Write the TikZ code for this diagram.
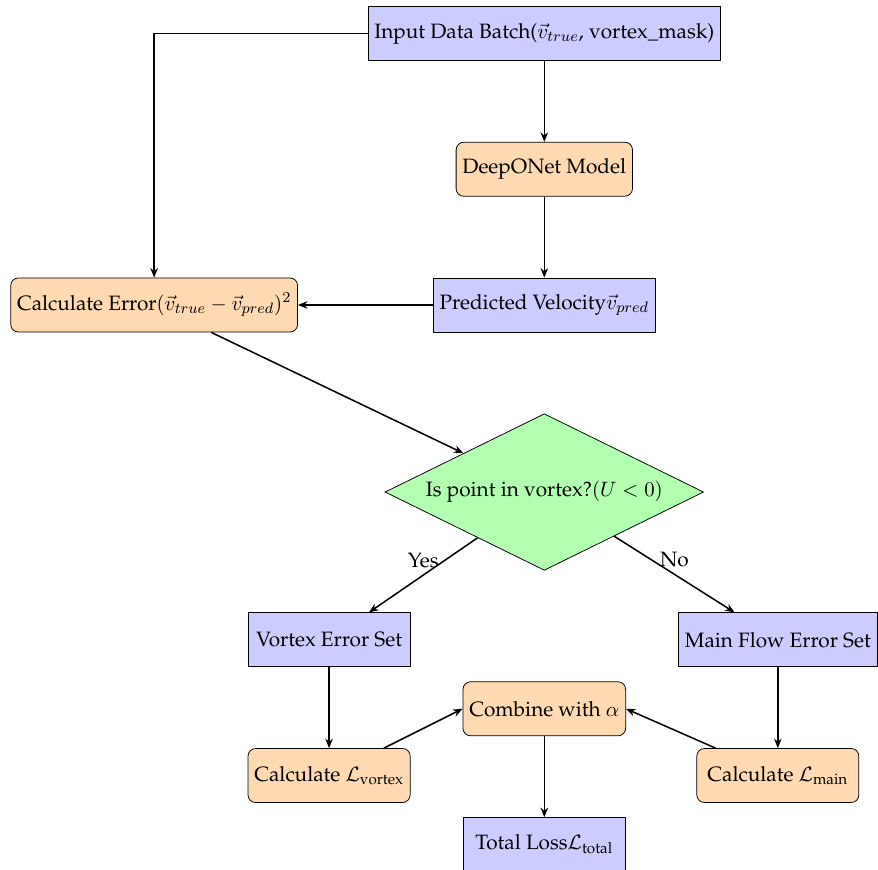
\documentclass[tikz,border=0pt]{standalone}
\usepackage{amsmath}
\usepackage[T1]{fontenc}
\usepackage{palatino}
\usetikzlibrary{arrows.meta,positioning,shapes.geometric}

\begin{document}
\begin{tikzpicture}[>={Stealth[length=5pt,width=4pt]}, every node/.style={font=\fontsize{10.95}{13.6}\selectfont},
  data/.style={draw,fill=blue!20,minimum width=3cm,minimum height=1cm},
  proc/.style={draw,fill=orange!30,rounded corners,minimum width=3cm,minimum height=1cm},
  decision/.style={draw,fill=green!30,diamond,aspect=2,minimum width=5.9cm,minimum height=2.9cm,inner sep=1pt},
  flow/.style={->,thick}]
\useasboundingbox (0,0) rectangle (16.26,-16.11);
% top column
\node[data] (inp) at (10.08,-0.62){Input Data Batch($\vec{v}_{true}$, vortex\_mask)};
\node[proc,below=1.5cm of inp] (net){DeepONet Model};
\node[data,below=1.5cm of net] (pred){Predicted Velocity$\vec{v}_{pred}$};
\node[proc,left=2.5cm of pred] (err){Calculate Error$(\vec{v}_{true}-\vec{v}_{pred})^2$};
\node[decision,below=1.5cm of pred] (dec){Is point in vortex?$(U<0)$};
% two branches
\node[data,below left=1.5cm and 1cm of dec] (vset){Vortex Error Set};
\node[data,below right=1.5cm and 1cm of dec] (mset){Main Flow Error Set};
\node[proc,below=1.5cm of vset] (lvor){Calculate $\mathcal{L}_{\text{vortex}}$};
\node[proc,below=1.5cm of mset] (lmain){Calculate $\mathcal{L}_{\text{main}}$};
\node[proc,below=2.05cm of dec] (comb){Combine with $\alpha$};
\node[data,below=1.5cm of comb] (tot){Total Loss$\mathcal{L}_{\text{total}}$};
% arrows
\draw[flow] (inp.west) -| (err.north);
\draw[flow] (inp)--(net);\draw[flow] (net)--(pred);\draw[flow] (pred)--(err);
\draw[flow] (err)--(dec);
\draw[flow] (dec)--(vset) node[midway,above]{Yes};
\draw[flow] (dec)--(mset) node[midway,above]{No};
\draw[flow] (vset)--(lvor);\draw[flow] (mset)--(lmain);
\draw[flow] (lvor)--(comb.west);\draw[flow] (lmain)--(comb.east);
\draw[flow] (comb)--(tot);
\end{tikzpicture}
\end{document}
